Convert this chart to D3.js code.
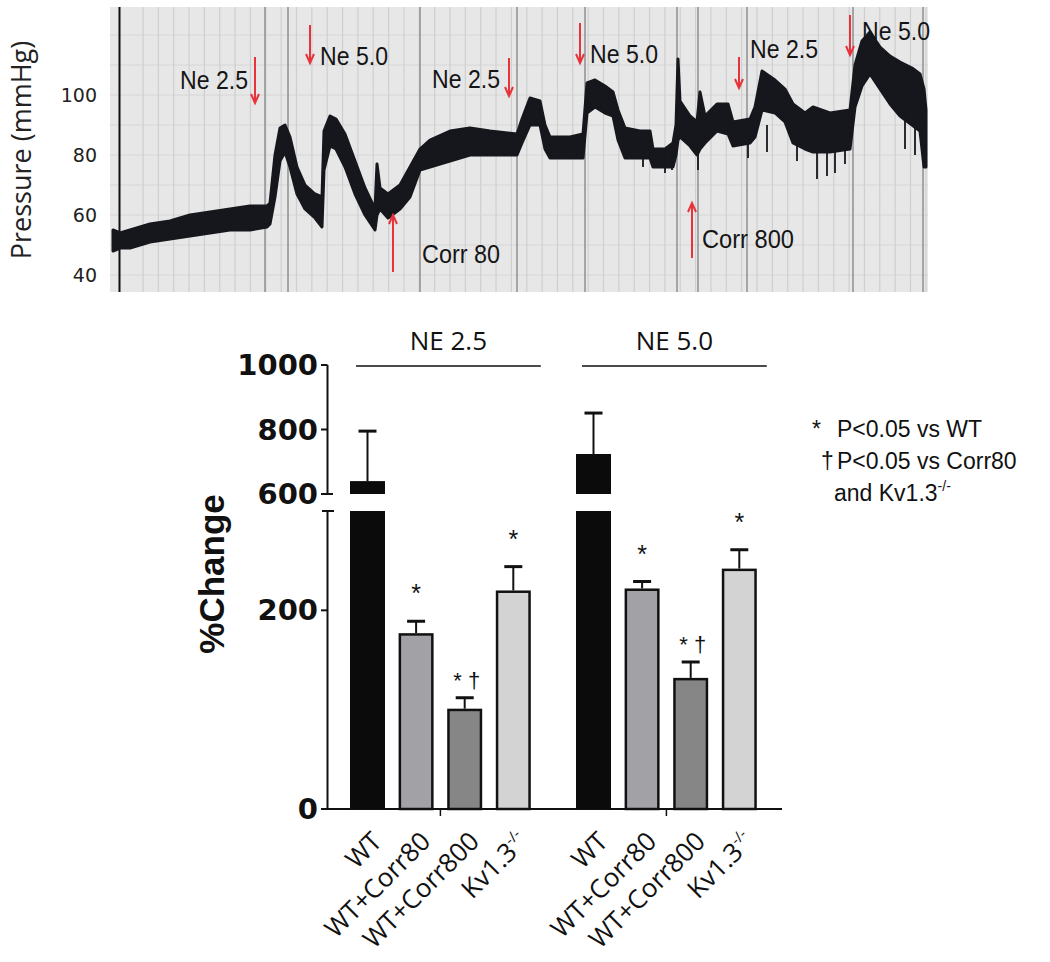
<!DOCTYPE html>
<html><head><meta charset="utf-8">
<script src="https://cdn.jsdelivr.net/npm/d3@7"></script>
<style>body{margin:0;background:#fff}</style>
</head><body>
<svg id="chart" width="1050" height="962"></svg>
<script>
// ---------- DATA: pressure trace (top panel) ----------
const traceTime = [0,7,17,37,57,77,97,117,137,154,157,162,167,172,177,184,192,202,209,211,217,223,232,242,252,262,264,267,275,287,297,307,317,337,357,377,404,409,417,427,432,437,457,470,474,482,492,500,505,512,527,537,540,552,560,563,565,567,577,584,587,592,604,615,620,637,642,649,662,672,680,692,700,717,737,742,749,757,767,777,787,799,807,811,813];
const traceHigh = [55,54,55,57,58,60,61,62,63,63,64,80,89,90,86,76,70,67,66,88,93,92,87,78,69,62,77,69,67,70,76,82,85,88,89,88,87,92,99,98,90,86,86,87,104,105,103,101,95,89,88,88,82,82,84,90,112,98,93,91,101,93,97,97,91,92,96,108,105,102,97,94,96,94,95,110,118,121,116,113,111,109,107,102,95];
const traceLow = [48,49,49,51,52,53,54,55,55,56,57,66,78,81,76,67,62,59,56,75,83,82,76,67,60,55,60,62,59,62,66,75,76,78,80,80,80,84,90,90,82,79,79,79,94,96,94,93,85,79,79,79,76,76,76,80,85,86,83,80,82,84,88,87,83,84,86,95,94,91,84,82,81,81,82,96,103,107,102,97,93,90,88,76,76];
const spikeTime = [530,552,559,585,635,654,684,704,714,722,732,792,802];
const spikeLow  = [76,74,75,75,79,81,78,72,73,74,77,82,80];
const spikeHigh = [84,82,82,86,88,90,88,86,86,86,88,96,94];
const markerTimes = [152,175,307,404,472,564,585,634,740,810];
const pressureTicks = [40,60,80,100];
const eventLabels = ["Ne 2.5","Ne 5.0","Ne 2.5","Corr 80","Ne 5.0","Corr 800","Ne 2.5","Ne 5.0"];
const eventTimes  = [142,197,396,280,467,579,626,737];
const eventDir    = ["down","down","down","up","down","up","down","down"];

// ---------- DATA: bar chart (bottom panel) ----------
const groups = ["NE 2.5","NE 5.0"];
const conditions = ["WT","WT+Corr80","WT+Corr800","Kv1.3"];
const meansNE25 = [640,177,101,220];
const errNE25   = [155,12,11,24];
const meansNE50 = [724,222,132,242];
const errNE50   = [127,7,16,19];
const sigNE25 = ["","*","* \u2020","*"];
const sigNE50 = ["","*","* \u2020","*"];
const lowTicks = [0,200];
const highTicks = [600,800,1000];
const barColors = ["#0b0b0b","#a2a2a6","#868686","#d3d3d3"];

const svg = d3.select("#chart");

// ================= TOP PANEL =================
const xT = d3.scaleLinear().domain([0,815]).range([113,928]);
const yP = d3.scaleLinear().domain([40,100]).range([275,95]);
const topG = svg.append("g");
topG.append("rect").attr("x",110).attr("y",7).attr("width",818).attr("height",285).attr("fill","#e7e7e7");
topG.selectAll("line.hg").data(d3.range(40,130,10)).join("line")
  .attr("x1",110).attr("x2",928).attr("y1",d=>yP(d)).attr("y2",d=>yP(d))
  .attr("stroke","#d6d6d6").attr("stroke-width",1);
topG.selectAll("line.vg").data(d3.range(30,815,15.35)).join("line")
  .attr("x1",d=>xT(d)).attr("x2",d=>xT(d)).attr("y1",7).attr("y2",292)
  .attr("stroke","#cfcfcf").attr("stroke-width",1.2);
topG.selectAll("line.mk").data(markerTimes).join("line")
  .attr("x1",d=>xT(d)).attr("x2",d=>xT(d)).attr("y1",7).attr("y2",292)
  .attr("stroke","#8f8f8f").attr("stroke-width",1.5);
topG.append("line").attr("x1",119.5).attr("x2",119.5).attr("y1",7).attr("y2",292)
  .attr("stroke","#111").attr("stroke-width",2);

const area = d3.area()
  .x((d,i)=>xT(traceTime[i]))
  .y0((d,i)=>yP(traceLow[i]))
  .y1((d,i)=>yP(traceHigh[i]));
topG.append("path").datum(traceTime).attr("d",area)
  .attr("fill","#15171d").attr("stroke","#15171d").attr("stroke-width",3).attr("stroke-linejoin","round");
topG.selectAll("line.sp").data(spikeTime).join("line")
  .attr("x1",d=>xT(d)).attr("x2",d=>xT(d))
  .attr("y1",(d,i)=>yP(spikeLow[i])).attr("y2",(d,i)=>yP(spikeHigh[i]))
  .attr("stroke","#15171d").attr("stroke-width",1.8);

topG.selectAll("text.pt").data(pressureTicks).join("text")
  .attr("x",97).attr("y",d=>yP(d)).attr("text-anchor","end").attr("dominant-baseline","central")
  .attr("font-family","DejaVu Sans").attr("font-size",19).attr("fill","#222").text(d=>d);
topG.append("text").attr("transform","translate(31,150) rotate(-90)").attr("text-anchor","middle")
  .attr("font-family","Open Sans").attr("font-size",27).attr("fill","#222").text("Pressure (mmHg)");

// annotation layout (pixel positions of arrows & labels)
const arrowY = [[57,103],[25,63],[58,96],[215,272],[23,63],[203,258],[57,88],[15,55]];
const labelPos = [[248,89,"end",68],[320,65,"start",68],[500,88,"end",68],[422,263,"start",78],
                  [590,63,"start",68],[702,248,"start",92],[750,58,"start",68],[862,40,"start",68]];
const red = "#e8333a";
eventTimes.forEach((t,i)=>{
  const x = xT(t), [a,b] = arrowY[i];
  const tip = eventDir[i]==="down" ? b : a;
  const tail = eventDir[i]==="down" ? a : b;
  const s = eventDir[i]==="down" ? -1 : 1;
  topG.append("line").attr("x1",x).attr("x2",x).attr("y1",tail).attr("y2",tip)
    .attr("stroke",red).attr("stroke-width",2);
  topG.append("path").attr("d",`M${x-4},${tip+s*9}L${x},${tip}L${x+4},${tip+s*9}`)
    .attr("fill","none").attr("stroke",red).attr("stroke-width",2);
  const [lx,ly,anc,w] = labelPos[i];
  topG.append("text").attr("x",lx).attr("y",ly).attr("text-anchor",anc)
    .attr("font-family","Liberation Sans").attr("font-size",25).attr("fill","#151515")
    .attr("textLength",w).attr("lengthAdjust","spacingAndGlyphs").text(eventLabels[i]);
});

// ================= BOTTOM PANEL =================
const yLow = d3.scaleLinear().domain([0,300]).range([809,511]);
const yHigh = d3.scaleLinear().domain([600,1000]).range([494,365]);
const xG = d3.scaleBand().domain(groups).range([350,756.8]).paddingInner(0.2).paddingOuter(0);
const xC = d3.scaleBand().domain(conditions).range([0,xG.bandwidth()]).paddingInner(0.28).paddingOuter(0);
const bw = xC.bandwidth();
const bot = svg.append("g");
const axisX = 327.5;

// y axis segments
bot.append("line").attr("x1",axisX).attr("x2",axisX).attr("y1",yHigh(1000)).attr("y2",yHigh(600)).attr("stroke","#111").attr("stroke-width",2);
bot.append("line").attr("x1",axisX).attr("x2",axisX).attr("y1",yLow(300)).attr("y2",yLow(0)).attr("stroke","#111").attr("stroke-width",2);
bot.selectAll("line.ht").data(highTicks).join("line")
  .attr("x1",321).attr("x2",d=>d===600?333:axisX).attr("y1",d=>yHigh(d)).attr("y2",d=>yHigh(d))
  .attr("stroke","#111").attr("stroke-width",2);
bot.append("line").attr("x1",322).attr("x2",334).attr("y1",yLow(300)).attr("y2",yLow(300)).attr("stroke","#111").attr("stroke-width",2);
bot.selectAll("line.lt").data(lowTicks).join("line")
  .attr("x1",321).attr("x2",axisX).attr("y1",d=>yLow(d)).attr("y2",d=>yLow(d))
  .attr("stroke","#111").attr("stroke-width",2);
function tickLabels(data, scale){
  bot.selectAll(null).data(data).join("text")
    .attr("x",318).attr("y",d=>scale(d)).attr("text-anchor","end").attr("dominant-baseline","central")
    .attr("font-family","DejaVu Sans").attr("font-size",29).attr("font-weight","bold")
    .attr("fill","#111").text(d=>d);
}
tickLabels(highTicks,yHigh);
tickLabels(lowTicks,yLow);
bot.append("text").attr("transform","translate(224,574) rotate(-90)").attr("text-anchor","middle")
  .attr("font-family","Liberation Sans").attr("font-weight","bold").attr("font-size",35).attr("fill","#111").text("%Change");

// x axis
bot.append("line").attr("x1",axisX-1).attr("x2",782).attr("y1",809).attr("y2",809).attr("stroke","#111").attr("stroke-width",2);
bot.selectAll("line.gt").data(groups).join("line")
  .attr("x1",d=>xG(d)+xG.bandwidth()/2).attr("x2",d=>xG(d)+xG.bandwidth()/2)
  .attr("y1",809).attr("y2",816).attr("stroke","#111").attr("stroke-width",1.5);

// group headers
groups.forEach(g=>{
  const x0 = xG(g)+6, x1 = xG(g)+xG.bandwidth()+10;
  bot.append("line").attr("x1",x0).attr("x2",x1).attr("y1",366).attr("y2",366).attr("stroke","#111").attr("stroke-width",1.5);
  bot.append("text").attr("x",(x0+x1)/2).attr("y",350).attr("text-anchor","middle")
    .attr("font-family","Open Sans").attr("font-size",26).attr("fill","#111").text(g);
});

// bars
const series = [{g:groups[0],m:meansNE25,e:errNE25,s:sigNE25},{g:groups[1],m:meansNE50,e:errNE50,s:sigNE50}];
series.forEach(ser=>{
  conditions.forEach((c,i)=>{
    const x = xG(ser.g)+xC(c), cx = x+bw/2, v = ser.m[i], top = v+ser.e[i];
    const inset = i>0?1.25:0;
    if(v>300){
      bot.append("rect").attr("x",x).attr("width",bw).attr("y",yLow(300)).attr("height",yLow(0)-yLow(300)).attr("fill",barColors[i]);
      bot.append("rect").attr("x",x).attr("width",bw).attr("y",yHigh(v)).attr("height",yHigh(600)-yHigh(v)).attr("fill",barColors[i]);
      bot.append("line").attr("x1",cx).attr("x2",cx).attr("y1",yHigh(v)).attr("y2",yHigh(top)).attr("stroke","#111").attr("stroke-width",2);
      bot.append("line").attr("x1",cx-9).attr("x2",cx+9).attr("y1",yHigh(top)).attr("y2",yHigh(top)).attr("stroke","#111").attr("stroke-width",3);
    } else {
      bot.append("line").attr("x1",cx).attr("x2",cx).attr("y1",yLow(v)).attr("y2",yLow(top)).attr("stroke","#111").attr("stroke-width",2);
      bot.append("line").attr("x1",cx-9).attr("x2",cx+9).attr("y1",yLow(top)).attr("y2",yLow(top)).attr("stroke","#111").attr("stroke-width",3);
      bot.append("rect").attr("x",x+inset).attr("width",bw-2*inset).attr("y",yLow(v)+inset).attr("height",yLow(0)-yLow(v)-inset)
        .attr("fill",barColors[i]).attr("stroke","#111").attr("stroke-width",2.5);
      if(ser.s[i]){
        const dagger = ser.s[i].length>1;
        bot.append("text").attr("x",cx+(dagger?2:0)).attr("y",yLow(top)-(dagger?10:19)).attr("text-anchor","middle")
          .attr("font-family","Liberation Sans").attr("font-size",dagger?22:25).attr("fill","#111").text(ser.s[i]);
      }
    }
    // x label
    const lab = bot.append("text").attr("transform",`translate(${cx+16},843) rotate(-45)`).attr("text-anchor","end")
      .attr("font-family","Open Sans").attr("font-size",26).attr("fill","#111");
    if(c==="Kv1.3"){
      lab.append("tspan").text("Kv1.3");
      lab.append("tspan").attr("font-size",15).attr("dy",-11).text("-/-");
    } else lab.text(c);
  });
});

// legend
const leg = bot.append("g").attr("font-family","Liberation Sans").attr("font-size",23).attr("fill","#111");
leg.append("text").attr("x",812).attr("y",437).text("*");
leg.append("text").attr("x",837).attr("y",437).text("P<0.05 vs WT");
leg.append("text").attr("x",821).attr("y",469).text("\u2020");
leg.append("text").attr("x",837).attr("y",469).text("P<0.05 vs Corr80");
const l3 = leg.append("text").attr("x",834).attr("y",501);
l3.append("tspan").text("and Kv1.3");
l3.append("tspan").attr("font-size",14).attr("dy",-10).text("-/-");
</script>
</body></html>
